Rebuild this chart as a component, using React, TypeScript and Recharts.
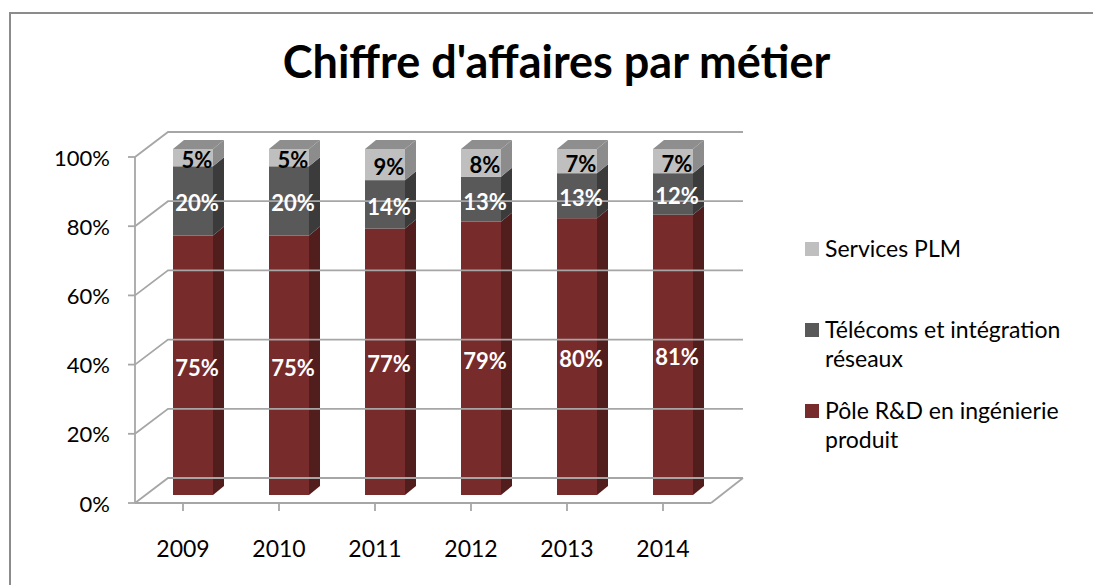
import React from "react";
import { BarChart, Bar, XAxis, YAxis, ReferenceLine, LabelList } from "recharts";

const years = ["2009", "2010", "2011", "2012", "2013", "2014"];
const rdValues = [75, 75, 77, 79, 80, 81];
const telecomValues = [20, 20, 14, 13, 13, 12];
const plmValues = [5, 5, 9, 8, 7, 7];
const yTicks = [0, 20, 40, 60, 80, 100];

const data = years.map((year, i) => ({
  year,
  rd: rdValues[i],
  telecom: telecomValues[i],
  plm: plmValues[i],
}));

const series = [
  { key: "rd", name: "Pôle R&D en ingénierie produit", front: "#772B2B", side: "#511D1D", top: "#8A3A3A", label: "#ffffff" },
  { key: "telecom", name: "Télécoms et intégration réseaux", front: "#595959", side: "#3B3B3B", top: "#707070", label: "#ffffff" },
  { key: "plm", name: "Services PLM", front: "#BFBFBF", side: "#8C8C8C", top: "#8E8E8E", label: "#000000" },
];

const FONT = "Lato, 'Open Sans', sans-serif";
const WALL_DX = 33;
const WALL_DY = -25;
// bars sit half way into the depth of the floor
const BAR_DX = 10;
const BAR_DY = -8;
const DEPTH_X = 11;
const DEPTH_Y = -9;
const GRID = "#A6A6A6";

function wallLine(props: any) {
  const { x1, y1, x2 } = props;
  const bx = x1 + WALL_DX;
  const by = y1 + WALL_DY;
  const ex = x2 + WALL_DX - 1;
  const isFloor = Math.abs(y1 - 503) < 1;
  return (
    <g>
      <polyline points={`${x1},${y1} ${bx},${by} ${ex},${by}`} fill="none" stroke={GRID} strokeWidth={1.8} />
      {isFloor && <line x1={x2} y1={y1} x2={ex} y2={by} stroke={GRID} strokeWidth={1.8} />}
    </g>
  );
}

function makeShape(s: typeof series[number], isTop: boolean) {
  return (props: any) => {
    const { x, y, width, height } = props;
    if (!height) return <g />;
    const fx = x + BAR_DX;
    const fy = y + BAR_DY;
    const rx = fx + width;
    return (
      <g>
        <rect x={fx} y={fy} width={width} height={height} fill={s.front} />
        <polygon
          points={`${rx},${fy} ${rx + DEPTH_X},${fy + DEPTH_Y} ${rx + DEPTH_X},${fy + height + DEPTH_Y} ${rx},${fy + height}`}
          fill={s.side}
        />
        {isTop && (
          <polygon
            points={`${fx},${fy} ${fx + DEPTH_X},${fy + DEPTH_Y} ${rx + DEPTH_X},${fy + DEPTH_Y} ${rx},${fy}`}
            fill={s.top}
          />
        )}
      </g>
    );
  };
}

function makeLabel(color: string) {
  return (props: any) => {
    const { x, y, width, height, value } = props;
    return (
      <text
        x={x + width / 2 + BAR_DX + 4}
        y={y + height / 2 + BAR_DY + 2}
        dominantBaseline="central"
        textAnchor="middle"
        fill={color}
        fontFamily={FONT}
        fontWeight={700}
        fontSize={22}
      >
        {value}%
      </text>
    );
  };
}

function XTick(props: any) {
  const { x, y, payload } = props;
  return (
    <text x={x} y={y + 44} textAnchor="middle" fontFamily={FONT} fontSize={23} fill="#000">
      {payload.value}
    </text>
  );
}

function YTick(props: any) {
  const { x, y, payload } = props;
  return (
    <text x={x - 16} y={y} textAnchor="end" dominantBaseline="central" fontFamily={FONT} fontSize={22} fill="#000">
      {payload.value}%
    </text>
  );
}

const legendItems = [
  { color: series[2].front, lines: ["Services PLM"], top: 234 },
  { color: series[1].front, lines: ["Télécoms et intégration", "réseaux"], top: 315 },
  { color: series[0].front, lines: ["Pôle R&D en ingénierie", "produit"], top: 396 },
];

export default function App() {
  return (
    <div style={{ position: "absolute", left: 0, top: 0, width: 1093, height: 585, overflow: "hidden", background: "#fff" }}>
      <div
        style={{
          position: "absolute",
          left: 9,
          top: 12,
          width: 1200,
          height: 700,
          border: "2px solid #8C8C8C",
        }}
      />
      <div
        style={{
          position: "absolute",
          left: 0,
          width: 1093,
          top: 34,
          textAlign: "center",
          fontFamily: FONT,
          fontWeight: 700,
          fontSize: 45,
          color: "#000",
          paddingLeft: 20,
          boxSizing: "border-box",
        }}
      >
        Chiffre d'affaires par métier
      </div>
      <div style={{ position: "absolute", left: 0, top: 0 }}>
        <BarChart
          width={1093}
          height={585}
          data={data}
          margin={{ top: 157, right: 382, bottom: 52, left: 15 }}
          barSize={40}
        >
          <XAxis
            dataKey="year"
            height={30}
            tick={<XTick />}
            tickSize={8}
            axisLine={{ stroke: GRID, strokeWidth: 1.8 }}
            tickLine={{ stroke: GRID, strokeWidth: 1.8 }}
            interval={0}
          />
          <YAxis
            width={120}
            domain={[0, 100]}
            ticks={yTicks}
            tick={<YTick />}
            tickSize={7}
            axisLine={{ stroke: GRID, strokeWidth: 1.8 }}
            tickLine={{ stroke: GRID, strokeWidth: 1.8 }}
          />
          {yTicks.map((t) => (
            <ReferenceLine key={t} y={t} shape={wallLine} />
          ))}
          {series.map((s, i) => (
            <Bar
              key={s.key}
              dataKey={s.key}
              name={s.name}
              stackId="a"
              fill={s.front}
              isAnimationActive={false}
              shape={makeShape(s, i === series.length - 1)}
            >
              <LabelList dataKey={s.key} content={makeLabel(s.label)} />
            </Bar>
          ))}
        </BarChart>
      </div>
      {legendItems.map((it) => (
        <div
          key={it.lines[0]}
          style={{ position: "absolute", left: 805, top: it.top, fontFamily: FONT, fontSize: 23, lineHeight: "29px", color: "#000" }}
        >
          <div style={{ position: "absolute", left: 0, top: 8, width: 14, height: 14, background: it.color }} />
          <div style={{ marginLeft: 20 }}>
            {it.lines.map((l) => (
              <div key={l}>{l}</div>
            ))}
          </div>
        </div>
      ))}
    </div>
  );
}
